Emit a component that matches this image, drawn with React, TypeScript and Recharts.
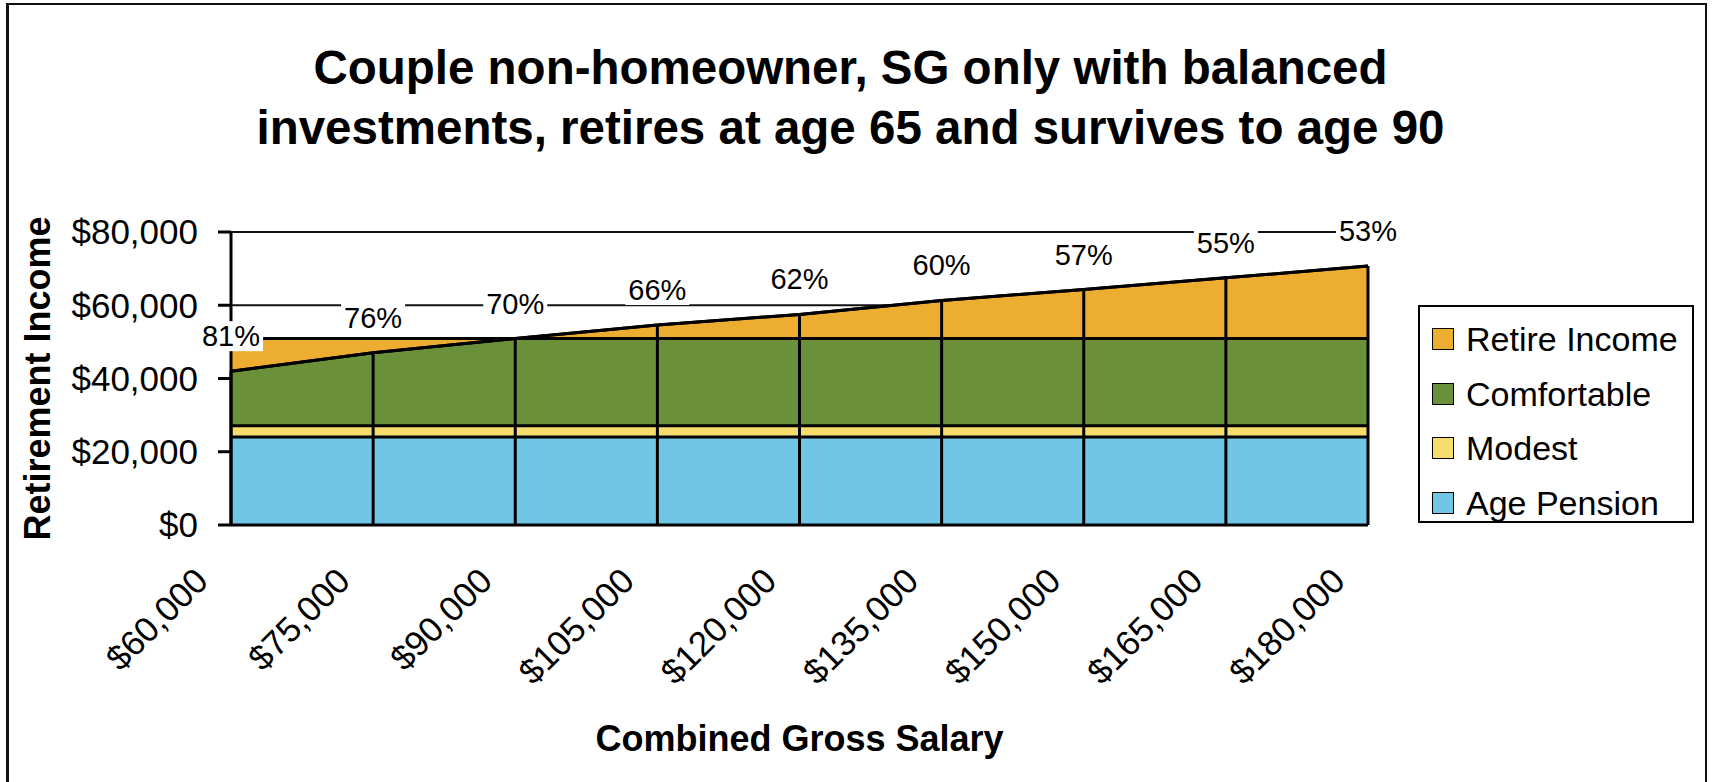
import React from 'react';
import {
  ComposedChart,
  Area,
  Line,
  XAxis,
  YAxis,
  CartesianGrid,
  Legend,
  LabelList,
  Label,
  ReferenceLine,
} from 'recharts';

// values
const salaries = [60000, 75000, 90000, 105000, 120000, 135000, 150000, 165000, 180000];
const agePension = [24000, 24000, 24000, 24000, 24000, 24000, 24000, 24000, 24000];
const modest = [27100, 27100, 27100, 27100, 27100, 27100, 27100, 27100, 27100];
const comfortable = [50900, 50900, 50900, 50900, 50900, 50900, 50900, 50900, 50900];
const retireIncome = [42000, 47000, 50900, 54600, 57500, 61300, 64300, 67500, 70700];
const replacementPct = [81, 76, 70, 66, 62, 60, 57, 55, 53];
const yTicks = [0, 20000, 40000, 60000, 80000];

const titleLines = [
  'Couple non-homeowner, SG only with balanced',
  'investments, retires at age 65 and survives to age 90',
];

const FONT = '"Liberation Sans", Arial, sans-serif';

const COLORS = {
  retire: '#EDAD30',
  comfortable: '#6A9139',
  modest: '#F7DD6E',
  pension: '#71C6E6',
};

const legendItems = [
  { name: 'Retire Income', color: COLORS.retire },
  { name: 'Comfortable', color: COLORS.comfortable },
  { name: 'Modest', color: COLORS.modest },
  { name: 'Age Pension', color: COLORS.pension },
];

const data = salaries.map((salary, i) => ({
  salary,
  pension: agePension[i],
  modest: modest[i],
  comfortable: comfortable[i],
  income: retireIncome[i],
  upper: Math.max(retireIncome[i], comfortable[i]),
  lower: Math.min(retireIncome[i], comfortable[i]),
  pct: replacementPct[i] + '%',
}));

const money = (v: number) => '$' + v.toLocaleString('en-US');

const XTick = (props: any) => {
  const { x, y, payload } = props;
  const ax = x - 21;
  const ay = y + 58;
  return (
    <text
      x={ax}
      y={ay}
      textAnchor="end"
      fontSize={35}
      fontFamily={FONT}
      fill="#000"
      transform={`rotate(-45, ${ax}, ${ay})`}
    >
      {money(payload.value)}
    </text>
  );
};

const PctLabel = (props: any) => {
  const { x, y, value } = props;
  const w = 64;
  const h = 30;
  const cy = y - 35;
  return (
    <g>
      <rect x={x - w / 2} y={cy - h / 2} width={w} height={h} fill="#fff" />
      <text
        x={x}
        y={cy}
        textAnchor="middle"
        dominantBaseline="central"
        fontSize={29}
        fontFamily={FONT}
        fill="#000"
      >
        {value}
      </text>
    </g>
  );
};

const LegendBox = () => (
  <div
    style={{
      width: 276,
      height: 218,
      boxSizing: 'border-box',
      border: '2px solid #000',
      background: '#fff',
      padding: '5px 0 0 12px',
      fontFamily: FONT,
    }}
  >
    {legendItems.map((it) => (
      <div key={it.name} style={{ display: 'flex', alignItems: 'center', height: 54.5 }}>
        <span
          style={{
            width: 22,
            height: 22,
            boxSizing: 'border-box',
            border: '1.5px solid #000',
            background: it.color,
            marginRight: 12,
          }}
        />
        <span style={{ fontSize: 34, color: '#000', lineHeight: 1 }}>{it.name}</span>
      </div>
    ))}
  </div>
);

const App: React.FC = () => {
  return (
    <div
      style={{
        position: 'fixed',
        left: 0,
        top: 0,
        width: 1712,
        height: 782,
        overflow: 'hidden',
        background: '#fff',
      }}
    >
      <div
        style={{
          position: 'absolute',
          left: 6,
          top: 3,
          width: 1701,
          height: 900,
          boxSizing: 'border-box',
          borderLeft: '3px solid #111',
          borderTop: '2px solid #111',
          borderRight: '2px solid #111',
        }}
      />
      <div
        style={{
          position: 'absolute',
          left: 0,
          width: 1701,
          top: 38,
          textAlign: 'center',
          fontFamily: FONT,
          fontWeight: 'bold',
          fontSize: 47.5,
          lineHeight: '60px',
          color: '#000',
        }}
      >
        {titleLines.map((t) => (
          <div key={t}>{t}</div>
        ))}
      </div>
      <div style={{ position: 'absolute', left: 0, top: 0 }}>
        <ComposedChart
          width={1712}
          height={782}
          data={data}
          margin={{ top: 232, right: 68, bottom: 0, left: 0 }}
        >
          <CartesianGrid vertical={false} stroke="#111" strokeWidth={2} />
          <XAxis
            dataKey="salary"
            scale="point"
            padding={{ left: 0, right: 0 }}
            height={257}
            tickLine={false}
            tickSize={0}
            tickMargin={0}
            axisLine={{ stroke: '#000', strokeWidth: 3 }}
            tick={<XTick />}
            interval={0}
          >
            <Label
              content={(p: any) => {
                const vb = p.viewBox || {};
                return (
                  <text
                    x={vb.x + vb.width / 2}
                    y={vb.y + 213}
                    textAnchor="middle"
                    dominantBaseline="central"
                    fontSize={36}
                    fontWeight="bold"
                    fontFamily={FONT}
                    fill="#000"
                  >
                    Combined Gross Salary
                  </text>
                );
              }}
            />
          </XAxis>
          <YAxis
            width={231}
            domain={[0, 80000]}
            ticks={yTicks}
            tickFormatter={money}
            tickSize={13}
            tickMargin={20}
            tickLine={{ stroke: '#000', strokeWidth: 3 }}
            axisLine={{ stroke: '#000', strokeWidth: 3 }}
            tick={{ fontSize: 35, fill: '#000', fontFamily: FONT }}
          >
            <Label
              content={(p: any) => {
                const vb = p.viewBox || {};
                const cx = vb.x + 37;
                const cy = vb.y + vb.height / 2;
                return (
                  <text
                    x={cx}
                    y={cy}
                    textAnchor="middle"
                    dominantBaseline="central"
                    fontSize={36}
                    fontWeight="bold"
                    fontFamily={FONT}
                    fill="#000"
                    transform={`rotate(-90, ${cx}, ${cy})`}
                  >
                    Retirement Income
                  </text>
                );
              }}
            />
          </YAxis>
          <Legend
            layout="vertical"
            align="right"
            verticalAlign="middle"
            wrapperStyle={{ left: 1418, top: 305, width: 276, height: 218 }}
            content={() => <LegendBox />}
          />
          <Area
            dataKey="upper"
            name="Retire Income"
            type="linear"
            fill={COLORS.retire}
            fillOpacity={1}
            stroke="#000"
            strokeWidth={3}
            isAnimationActive={false}
          />
          <Area
            dataKey="lower"
            name="Comfortable"
            type="linear"
            fill={COLORS.comfortable}
            fillOpacity={1}
            stroke="#000"
            strokeWidth={3}
            isAnimationActive={false}
          />
          <Area
            dataKey="modest"
            name="Modest"
            type="linear"
            fill={COLORS.modest}
            fillOpacity={1}
            stroke="#000"
            strokeWidth={3}
            isAnimationActive={false}
          />
          <Area
            dataKey="pension"
            name="Age Pension"
            type="linear"
            fill={COLORS.pension}
            fillOpacity={1}
            stroke="#000"
            strokeWidth={3}
            isAnimationActive={false}
          />
          {data.map((d) => (
            <ReferenceLine
              key={d.salary}
              segment={[
                { x: d.salary, y: 0 },
                { x: d.salary, y: d.income },
              ]}
              stroke="#000"
              strokeWidth={3}
            />
          ))}
          <Line
            dataKey="income"
            type="linear"
            stroke="#000"
            strokeWidth={3}
            dot={false}
            legendType="none"
            isAnimationActive={false}
          >
            <LabelList dataKey="pct" content={<PctLabel />} />
          </Line>
        </ComposedChart>
      </div>
    </div>
  );
};

export default App;
